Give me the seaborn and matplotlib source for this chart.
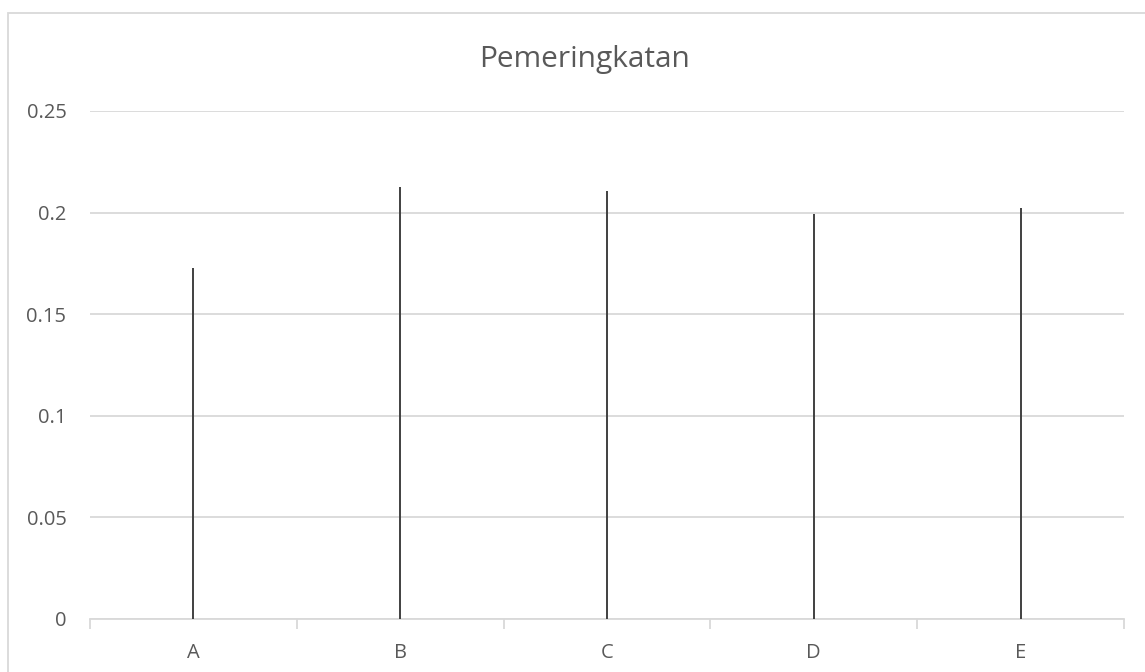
import matplotlib
matplotlib.use("Agg")
import matplotlib.pyplot as plt
from matplotlib.patches import Rectangle
from matplotlib.ticker import FixedLocator
import seaborn as sns
import pandas as pd

# Ranking scores per alternative
categories = ["A", "B", "C", "D", "E"]
scores = [0.1726, 0.2124, 0.2106, 0.1993, 0.2021]
y_ticks = [0, 0.05, 0.1, 0.15, 0.2, 0.25]
y_tick_labels = ["0", "0.05", "0.1", "0.15", "0.2", "0.25"]
title = "Pemeringkatan"

df = pd.DataFrame({"alternatif": categories, "nilai": scores})

sns.set_theme(style="white")
plt.rcParams["font.family"] = ["Open Sans", "DejaVu Sans"]

text_color = "#595959"
grid_color = "#d9d9d9"

fig = plt.figure(figsize=(11.45, 6.72), dpi=100)
ax = fig.add_axes([90 / 1145, 1 - 619 / 672, (1124 - 90) / 1145, (619 - 111) / 672])

# zero-width bars whose edges form thin vertical lines
sns.barplot(data=df, x="alternatif", y="nilai", ax=ax, width=0,
            color="#404040", saturation=1, edgecolor="#404040",
            linewidth=1.4, zorder=3)

ax.set_xlim(-0.5, len(categories) - 0.5)
ax.set_ylim(0, 0.25)
ax.set_yticks(y_ticks, y_tick_labels)
ax.grid(axis="y", color=grid_color, linewidth=1.3, zorder=0)
ax.set_axisbelow(True)

for side in ["top", "right", "left"]:
    ax.spines[side].set_visible(False)
ax.spines["bottom"].set_color(grid_color)
ax.spines["bottom"].set_linewidth(1.3)
ax.spines["bottom"].set_zorder(2)

# category separators as minor ticks below the axis
ax.xaxis.set_minor_locator(FixedLocator([i - 0.5 for i in range(len(categories) + 1)]))
ax.tick_params(axis="x", which="minor", length=7, width=1.3, color=grid_color, direction="out")
ax.tick_params(axis="x", which="major", length=0, pad=17, labelsize=14.5, labelcolor=text_color)
ax.tick_params(axis="y", length=0, pad=17, labelsize=14.5, labelcolor=text_color)
ax.xaxis.set_ticks_position("bottom")

ax.set_xlabel("")
ax.set_ylabel("")

fig.text(585 / 1145, 1 - 67 / 672, title, ha="center", va="baseline",
         fontsize=21.5, color=text_color)

# chart frame
fig.patches.append(Rectangle((8 / 1145, -0.1), 1.2, 1 - 13 / 672 + 0.1,
                             transform=fig.transFigure, fill=False,
                             edgecolor=grid_color, linewidth=1.3))

fig.savefig("out.png", dpi=100, facecolor="white")
